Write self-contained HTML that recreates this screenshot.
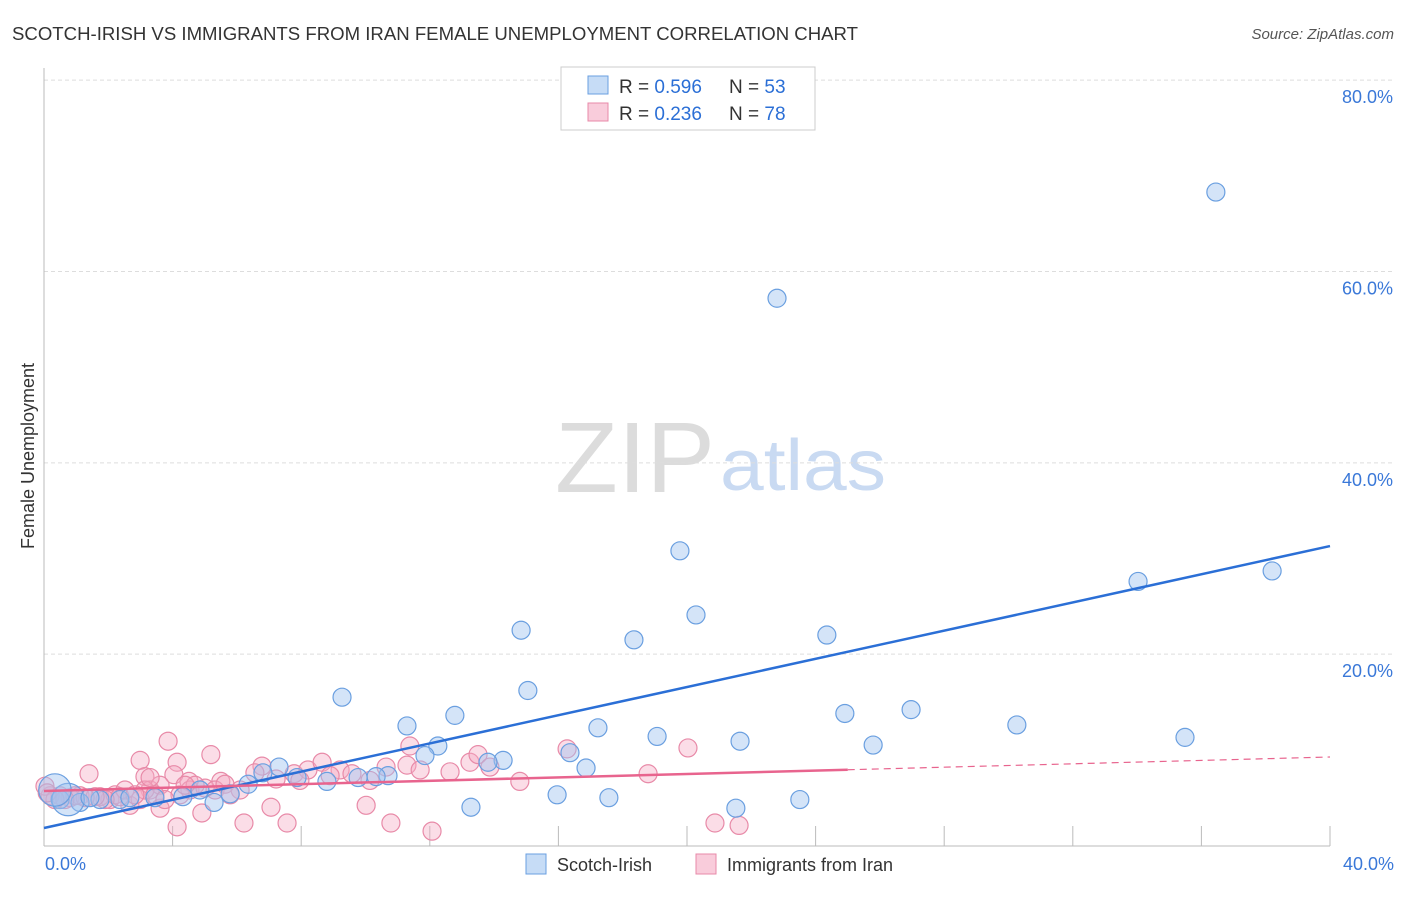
<!DOCTYPE html>
<html><head><meta charset="utf-8"><style>
body{margin:0;background:#fff;font-family:"Liberation Sans",sans-serif;}
svg text{font-family:"Liberation Sans",sans-serif;}
</style></head><body>
<svg id="chart" width="1406" height="892">
<text x="12" y="40" font-size="18" fill="#333" textLength="846" lengthAdjust="spacingAndGlyphs">SCOTCH-IRISH VS IMMIGRANTS FROM IRAN FEMALE UNEMPLOYMENT CORRELATION CHART</text>
<text x="1394" y="39" font-size="15" fill="#555" text-anchor="end" font-style="italic">Source: ZipAtlas.com</text>
<g>
<text x="635" y="492" font-size="100" fill="#dcdcdc" text-anchor="middle" font-family="Liberation Serif, serif" textLength="160" lengthAdjust="spacingAndGlyphs">ZIP</text>
<text x="803" y="490" font-size="72" fill="#c9daf2" text-anchor="middle" textLength="166" lengthAdjust="spacingAndGlyphs">atlas</text>
</g>
<g id="grid"></g>
<g id="axes"></g>
<g id="points"></g>
<g id="lines"></g>
<text x="34" y="456" font-size="18" fill="#333" text-anchor="middle" transform="rotate(-90 34 456)">Female Unemployment</text>
<g>
<rect x="561" y="67" width="254" height="63" fill="#fff" stroke="#ccc"/>
<rect x="588" y="76" width="20" height="18" fill="rgba(160,196,240,0.6)" stroke="#6a9fe0"/>
<text x="619" y="93" font-size="19" fill="#333">R = <tspan fill="#2b6fd6">0.596</tspan></text>
<text x="729" y="93" font-size="19" fill="#333">N = <tspan fill="#2b6fd6">53</tspan></text>
<rect x="588" y="103" width="20" height="18" fill="rgba(245,170,195,0.6)" stroke="#e88aa8"/>
<text x="619" y="120" font-size="19" fill="#333">R = <tspan fill="#2b6fd6">0.236</tspan></text>
<text x="729" y="120" font-size="19" fill="#333">N = <tspan fill="#2b6fd6">78</tspan></text>
</g>
<g>
<rect x="526" y="854" width="20" height="20" fill="rgba(160,196,240,0.6)" stroke="#6a9fe0"/>
<text x="557" y="871" font-size="18" fill="#333">Scotch-Irish</text>
<rect x="696" y="854" width="20" height="20" fill="rgba(245,170,195,0.6)" stroke="#e88aa8"/>
<text x="727" y="871" font-size="18" fill="#333">Immigrants from Iran</text>
</g>
</svg>
<script>
const blueX=[36.45,22.8,19.78,34.03,38.2,14.84,20.28,18.35,24.35,9.27,15.05,11.29,12.78,17.23,26.97,24.91,30.26,12.25,19.07,21.65,11.85,14.28,25.79,35.49,16.36,16.86,7.31,6.81,7.87,8.8,9.77,10.7,6.35,5.79,5.29,4.32,3.45,2.36,1.74,1.12,0.5,13.28,15.96,17.57,21.52,23.51,13.81,10.33,0.75,1.43,2.67,4.85,0.34];
const blueY=[68.3,57.2,30.8,27.6,28.7,22.5,24.1,21.5,22.0,15.5,16.2,12.5,13.6,12.3,14.2,13.8,12.6,10.4,11.4,10.9,9.4,8.9,10.5,11.3,9.7,8.1,8.2,7.6,7.1,6.7,7.1,7.3,6.4,5.4,4.5,5.1,5.0,4.8,4.8,4.5,4.8,4.0,5.3,5.0,3.9,4.8,8.7,7.2,4.8,5.0,5.0,5.8,5.8];
const blueSize=[1,1,1,1,1,1,1,1,1,1,1,1,1,1,1,1,1,1,1,1,1,1,1,1,1,1,1,1,1,1,1,1,1,1,1,1,1,1,1,1,1,1,1,1,1,1,1,1,2,1,1,1,2];
const pinkX=[1.4,2.99,3.86,4.14,5.19,3.14,4.04,4.51,5.5,6.78,7.22,7.78,8.21,8.65,9.21,9.58,10.64,11.38,11.29,12.63,13.25,13.5,13.87,14.8,16.27,18.79,20.03,10.02,7.06,4.14,4.91,6.22,7.56,10.79,12.07,20.87,21.62,3.61,2.67,2.05,0.81,0.19,0.03,0.5,1.12,1.74,2.21,2.52,3.3,3.61,4.54,5.01,5.32,5.63,6.1,6.56,7.96,8.9,10.14,11.7,4.23,4.7,2.99,2.36,1.9,1.59,1.28,0.96,0.65,0.34,3.14,3.45,3.76,2.83,5.79,3.3,4.39,0.1];
const pinkY=[7.5,8.9,10.9,8.7,9.5,7.2,7.4,6.7,6.7,8.3,6.95,7.5,7.9,8.7,7.9,7.5,8.2,10.4,8.4,7.7,8.7,9.5,8.2,6.7,10.1,7.5,10.2,4.2,4.0,1.95,3.4,2.35,2.35,2.35,1.5,2.35,2.1,3.9,4.2,4.8,5.0,5.2,6.2,5.2,5.2,5.1,5.3,5.8,5.8,6.3,5.8,6.0,5.8,6.4,5.8,7.6,6.8,7.3,6.8,7.9,5.3,6.3,4.8,5.1,4.8,5.1,5.0,5.2,4.8,4.8,5.8,5.3,4.8,5.3,5.3,7.1,6.3,5.5];
const blueTrend=[1.83,31.3];   // y at x=0, x=40
const pinkTrend=[5.7,9.25];    // y at x=0, x=40
const pinkSolidEnd=25;
const yTicks=[20,40,60,80];
const xTickLabels=["0.0%","40.0%"];
const X=v=>44+v*32.15, Y=v=>845.5-v*9.567;
const NS="http://www.w3.org/2000/svg";
function mk(tag,parent,attrs){const e=document.createElementNS(NS,tag);for(const k in attrs)e.setAttribute(k,attrs[k]);document.getElementById(parent).appendChild(e);return e;}
yTicks.forEach(t=>{
 const l=mk('line','grid',{x1:44,x2:1394,y1:Y(t),y2:Y(t),stroke:'#ddd','stroke-dasharray':'4,3'});
 
 
 const tx=mk('text','grid',{x:1393,y:Y(t)+23,'font-size':18,fill:'#3a78d8','text-anchor':'end'});
 tx.textContent=t.toFixed(1)+'%';
 
 
});
const ax=mk('line','axes',{x1:44,x2:44,y1:68,y2:846,stroke:'#bbb'});


const bx=mk('line','axes',{x1:44,x2:1330,y1:846,y2:846,stroke:'#bbb'});


for(let i=1;i<=10;i++){const v=i*4;const t=mk('line','axes',{x1:X(v),x2:X(v),y1:826,y2:846,stroke:'#bbb'});
 
 }
[[0,'start',45],[40,'end',1394]].forEach((d,i)=>{const t=mk('text','axes',{x:d[2],y:870,'font-size':18,fill:'#3a78d8','text-anchor':d[1]});t.textContent=xTickLabels[i];
 
 });
pinkX.forEach((v,i)=>{const c=mk('circle','points',{cx:X(v),cy:Y(pinkY[i]),r:9,fill:'rgba(245,170,195,0.4)',stroke:'#e88aa8','stroke-width':1.2});
 
 });
blueX.forEach((v,i)=>{const c=mk('circle','points',{cx:X(v),cy:Y(blueY[i]),r:9*(blueSize[i]>1?1.8:1),fill:'rgba(160,196,240,0.45)',stroke:'#6a9fe0','stroke-width':1.2});
 
 });
const bl=mk('line','lines',{x1:X(0),y1:Y(blueTrend[0]),x2:X(40),y2:Y(blueTrend[1]),stroke:'#2b6fd6','stroke-width':2.5});


const py=x=>pinkTrend[0]+(pinkTrend[1]-pinkTrend[0])*x/40;
const pl=mk('line','lines',{x1:X(0),y1:Y(py(0)),x2:X(pinkSolidEnd),y2:Y(py(pinkSolidEnd)),stroke:'#e8648e','stroke-width':2.5});


const pd=mk('line','lines',{x1:X(pinkSolidEnd),y1:Y(py(pinkSolidEnd)),x2:X(40),y2:Y(py(40)),stroke:'#e8648e','stroke-width':1.2,'stroke-dasharray':'7,5'});


</script>
</body></html>
